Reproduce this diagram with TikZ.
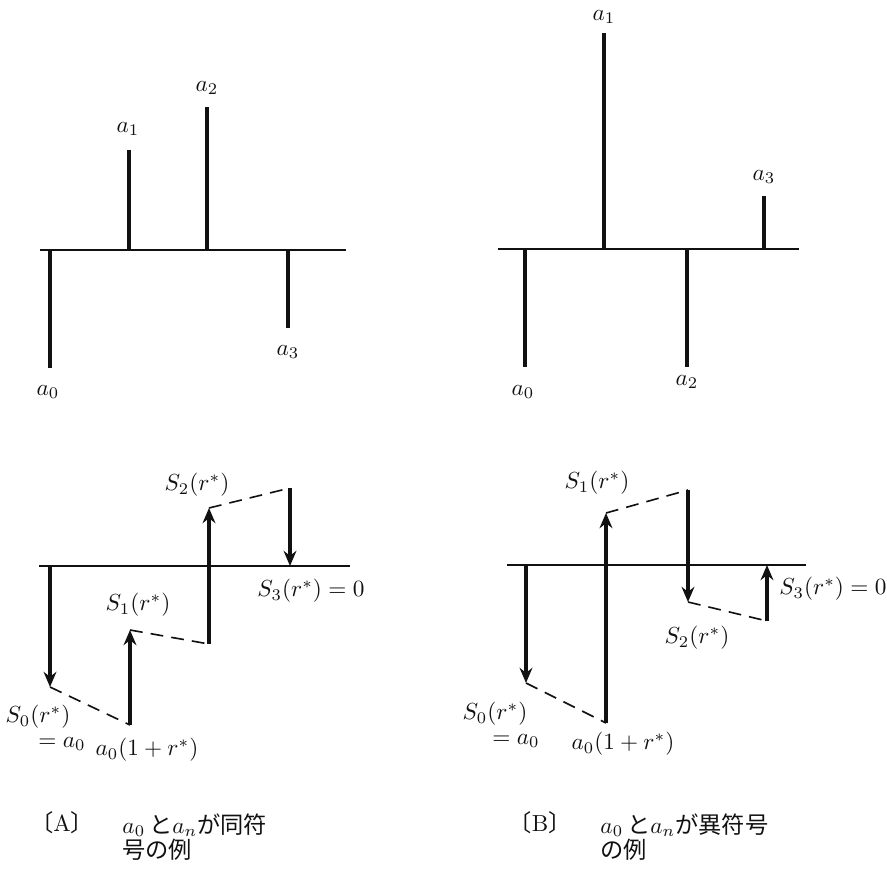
\documentclass[tikz,border=0pt]{standalone}
\usepackage{fontspec}
\newfontfamily\jp{Noto Sans CJK JP}
\usetikzlibrary{arrows.meta}
\definecolor{ink}{HTML}{111111}

\begin{document}
\begin{tikzpicture}[
  x=0.43pt,
  y=-0.43pt,
  >={Stealth[length=6.5pt,width=5.5pt]},
  axis/.style={line width=.8pt, color=ink},
  stem/.style={line width=1.4pt, color=ink},
  jump/.style={->, line width=1.3pt, color=ink},
  link/.style={line width=.7pt, color=ink, dash pattern=on 5.5pt off 3.5pt},
  lbl/.style={font=\fontsize{10}{12}\selectfont, text=ink, inner sep=.5pt},
  caption/.style={font=\fontsize{10}{11}\selectfont, text=ink, align=left,
                  inner sep=0pt},
]
\useasboundingbox (0,0) rectangle (887,869);

% [A] top: a_0 < 0, a_1, a_2 > 0, a_3 < 0
\coordinate (tAl) at (40,250);
\coordinate (tAr) at (346,250);
\draw[axis] (tAl) -- (tAr);

\coordinate (tA0b) at (50,250);
\coordinate (tA0e) at (50,368);
\coordinate (tA1b) at (129,250);
\coordinate (tA1e) at (129,150);
\coordinate (tA2b) at (207,250);
\coordinate (tA2e) at (207,107);
\coordinate (tA3b) at (288,250);
\coordinate (tA3e) at (288,328);
\draw[stem] (tA0b) -- (tA0e);
\draw[stem] (tA1b) -- (tA1e);
\draw[stem] (tA2b) -- (tA2e);
\draw[stem] (tA3b) -- (tA3e);

\node[lbl] (tAa0) at (48,392) {$a_0$};
\node[lbl] (tAa1) at (128,129) {$a_1$};
\node[lbl] (tAa2) at (207,88) {$a_2$};
\node[lbl] (tAa3) at (288,352) {$a_3$};

% [B] top: signs alternate
\coordinate (tBl) at (498,249);
\coordinate (tBr) at (799,249);
\draw[axis] (tBl) -- (tBr);

\coordinate (tB0b) at (525,249);
\coordinate (tB0e) at (525,367);
\coordinate (tB1b) at (604,249);
\coordinate (tB1e) at (604,33);
\coordinate (tB2b) at (687,249);
\coordinate (tB2e) at (687,367);
\coordinate (tB3b) at (764,249);
\coordinate (tB3e) at (764,196);
\draw[stem] (tB0b) -- (tB0e);
\draw[stem] (tB1b) -- (tB1e);
\draw[stem] (tB2b) -- (tB2e);
\draw[stem] (tB3b) -- (tB3e);

\node[lbl] (tBa0) at (523,392) {$a_0$};
\node[lbl] (tBa1) at (604,17) {$a_1$};
\node[lbl] (tBa2) at (687,382) {$a_2$};
\node[lbl] (tBa3) at (764,177) {$a_3$};

% [A] bottom: partial sums S_k(r*)
\coordinate (bAl) at (39,566);
\coordinate (bAr) at (350,566);
\draw[axis] (bAl) -- (bAr);

\coordinate (bA0b) at (50,566);
\coordinate (bA0) at (50,687);
\coordinate (bA1b) at (130,725);
\coordinate (bA1) at (130,630);
\coordinate (bA2b) at (209,644);
\coordinate (bA2) at (209,508);
\coordinate (bA3b) at (290,488);
\coordinate (bA3) at (290,566);
\draw[jump] (bA0b) -- (bA0);
\draw[link] (bA0) -- (bA1b);
\draw[jump] (bA1b) -- (bA1);
\draw[link] (bA1) -- (bA2b);
\draw[jump] (bA2b) -- (bA2);
\draw[link] (bA2) -- (bA3b);
\draw[jump] (bA3b) -- (bA3);

\node[lbl] (bAs0) at (38,717) {$S_0(r^*)$};
\node[lbl] (bAeq) at (62,744) {$=a_0$};
\node[lbl] (bAg) at (147,750) {$a_0(1+r^*)$};
\node[lbl] (bAs1) at (138,605) {$S_1(r^*)$};
\node[lbl] (bAs2) at (197,485) {$S_2(r^*)$};
\node[lbl] (bAs3) at (311,591) {$S_3(r^*)=0$};

% [B] bottom
\coordinate (bBl) at (507,565);
\coordinate (bBr) at (806,565);
\draw[axis] (bBl) -- (bBr);

\coordinate (bB0b) at (526,565);
\coordinate (bB0) at (526,683);
\coordinate (bB1b) at (606,723);
\coordinate (bB1) at (606,513);
\coordinate (bB2b) at (688,490);
\coordinate (bB2) at (688,602);
\coordinate (bB3b) at (767,621);
\coordinate (bB3) at (767,565);
\draw[jump] (bB0b) -- (bB0);
\draw[link] (bB0) -- (bB1b);
\draw[jump] (bB1b) -- (bB1);
\draw[link] (bB1) -- (bB2b);
\draw[jump] (bB2b) -- (bB2);
\draw[link] (bB2) -- (bB3b);
\draw[jump] (bB3b) -- (bB3);

\node[lbl] (bBs0) at (495,714) {$S_0(r^*)$};
\node[lbl] (bBeq) at (516,741) {$=a_0$};
\node[lbl] (bBg) at (623,744) {$a_0(1+r^*)$};
\node[lbl] (bBs1) at (597,483) {$S_1(r^*)$};
\node[lbl] (bBs2) at (697,638) {$S_2(r^*)$};
\node[lbl] (bBs3) at (833,589) {$S_3(r^*)=0$};

% captions
\node[caption] (capA) at (62,823) {{\jp 〔}A{\jp 〕}};
\node[caption, anchor=north west] (txtA) at (122,813)
  {$a_0$\,{\jp と}$a_n${\jp が同符}\\{\jp 号の例}};
\node[caption] (capB) at (540,823) {{\jp 〔}B{\jp 〕}};
\node[caption, anchor=north west] (txtB) at (600,813)
  {$a_0$\,{\jp と}$a_n${\jp が異符号}\\{\jp の例}};

\end{tikzpicture}
\end{document}
